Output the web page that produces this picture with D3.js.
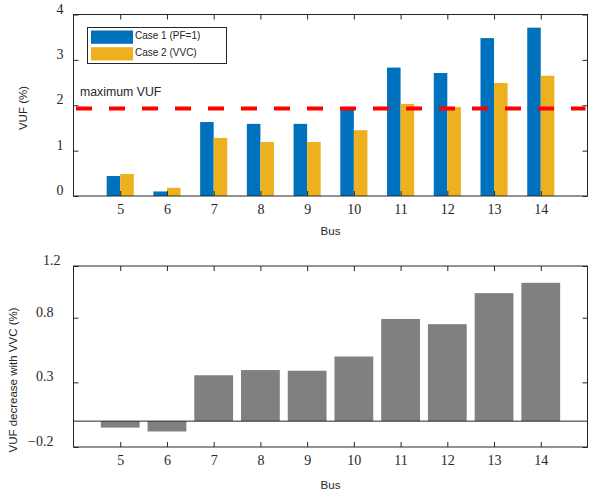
<!DOCTYPE html>
<html lang="en">
<head>
<meta charset="UTF-8">
<title>VUF per bus</title>
<script src="https://d3js.org/d3.v7.min.js"></script>
<style>
  body { margin: 0; background: #fff; }
  .tick line { stroke: #262626; }
  .lab { font-family: "Liberation Sans", Arial, sans-serif; fill: #262626; }
</style>
</head>
<body>
<script>
    // data
    var buses = [5, 6, 7, 8, 9, 10, 11, 12, 13, 14];
    var case1 = [0.44, 0.10, 1.63, 1.59, 1.59, 1.94, 2.83, 2.71, 3.48, 3.71];
    var case2 = [0.485, 0.18, 1.28, 1.19, 1.19, 1.45, 2.03, 1.96, 2.49, 2.65];
    var decrease = [-0.05, -0.08, 0.355, 0.395, 0.39, 0.50, 0.79, 0.75, 0.99, 1.07];
    var maxVUF = 1.93;
    var topTicks = [0, 1, 2, 3, 4];
    var botTicks = [-0.2, 0.3, 0.8, 1.2];

    var w = 590, h = 491;
    var svg = d3.select("body").append("svg")
        .attr("width", w)
        .attr("height", h);

    var left = 73.5, right = 587.5;

    // x scale shared by both panels
    var x = d3.scaleLinear().domain([4, 15]).range([left, right]);
    var step = x(1) - x(0);

    // ---------- top panel ----------
    var y1 = d3.scaleLinear().domain([0, 4]).range([196, 14.5]);
    var g1 = svg.append("g");

    var bw = 0.29 * step;
    g1.selectAll(".b1").data(buses).enter().append("rect")
        .attr("x", function (d) { return x(d) - bw; })
        .attr("width", bw)
        .attr("y", function (d, i) { return y1(case1[i]); })
        .attr("height", function (d, i) { return y1(0) - y1(case1[i]); })
        .attr("fill", "#0072BD");
    g1.selectAll(".b2").data(buses).enter().append("rect")
        .attr("x", function (d) { return x(d); })
        .attr("width", bw)
        .attr("y", function (d, i) { return y1(case2[i]); })
        .attr("height", function (d, i) { return y1(0) - y1(case2[i]); })
        .attr("fill", "#EDB120");

    // max VUF dashed line
    g1.append("line")
        .attr("x1", left + 2.5).attr("x2", right - 2)
        .attr("y1", y1(maxVUF)).attr("y2", y1(maxVUF))
        .attr("stroke", "#ff0000")
        .attr("stroke-width", 4)
        .attr("stroke-dasharray", "16,17");
    g1.append("text").attr("class", "lab")
        .attr("x", 80).attr("y", 96)
        .attr("font-size", "12.3px")
        .text("maximum VUF");

    drawAxes(g1, y1, topTicks, 196, 14.5, 10, d3.format("d"));

    g1.append("text").attr("class", "lab")
        .attr("x", (left + right) / 2).attr("y", 235)
        .attr("text-anchor", "middle").attr("font-size", "11.5px")
        .text("Bus");
    g1.append("text").attr("class", "lab")
        .attr("transform", "translate(27,108) rotate(-90)")
        .attr("text-anchor", "middle").attr("font-size", "11.5px")
        .text("VUF (%)");

    // legend
    var lg = g1.append("g");
    lg.append("rect").attr("x", 87.5).attr("y", 27.5).attr("width", 139).attr("height", 36)
        .attr("fill", "#fff").attr("stroke", "#262626").attr("stroke-width", 1);
    var legItems = ["Case 1 (PF=1)", "Case 2 (VVC)"];
    var legColors = ["#0072BD", "#EDB120"];
    legItems.forEach(function (t, i) {
        lg.append("rect").attr("x", 91).attr("y", 30.5 + i * 16.7)
            .attr("width", 42).attr("height", 13.3).attr("fill", legColors[i]);
        lg.append("text").attr("class", "lab")
            .attr("x", 135).attr("y", 39 + i * 16.5)
            .attr("font-size", "10px")
            .text(t);
    });

    // ---------- bottom panel ----------
    var y2 = d3.scaleLinear().domain([-0.2, 1.2]).range([447, 266]);
    var g2 = svg.append("g");

    var bw2 = 0.83 * step;
    g2.selectAll(".b3").data(buses).enter().append("rect")
        .attr("x", function (d) { return x(d) - bw2 / 2; })
        .attr("width", bw2)
        .attr("y", function (d, i) { return y2(Math.max(0, decrease[i])); })
        .attr("height", function (d, i) { return Math.abs(y2(decrease[i]) - y2(0)); })
        .attr("fill", "#808080");

    g2.append("line")
        .attr("x1", left).attr("x2", right)
        .attr("y1", y2(0)).attr("y2", y2(0))
        .attr("stroke", "#262626").attr("stroke-width", 1);

    drawAxes(g2, y2, botTicks, 447, 266, 20, function (d) { return d3.format(".1f")(d); });
    // top label of the lower panel sits a bit further right in the original
    g2.selectAll(".tick text").filter(function (d) { return d === 1.2; }).attr("dx", 7);

    g2.append("text").attr("class", "lab")
        .attr("x", (left + right) / 2).attr("y", 489)
        .attr("text-anchor", "middle").attr("font-size", "11.5px")
        .text("Bus");
    g2.append("text").attr("class", "lab")
        .attr("transform", "translate(17,380) rotate(-90)")
        .attr("text-anchor", "middle").attr("font-size", "11.5px")
        .text("VUF decrease with VVC (%)");

    // box + inward ticks on all four sides, like matlab
    function drawAxes(g, y, ticks, bottom, top, ypad, fmt) {
        g.append("g")
            .attr("transform", "translate(0," + bottom + ")")
            .call(d3.axisBottom(x).tickValues(buses).tickSize(-5).tickPadding(8))
            .call(function (s) { s.select(".domain").remove(); });
        g.append("g")
            .attr("transform", "translate(0," + top + ")")
            .call(d3.axisTop(x).tickValues(buses).tickSize(-5).tickFormat(""))
            .call(function (s) { s.select(".domain").remove(); });
        g.append("g")
            .attr("transform", "translate(" + left + ",0)")
            .call(d3.axisLeft(y).tickValues(ticks).tickSize(-5).tickPadding(ypad).tickFormat(fmt))
            .call(function (s) {
                s.select(".domain").remove();
                s.selectAll(".tick text").attr("dy", "-0.1em");
            });
        g.append("g")
            .attr("transform", "translate(" + right + ",0)")
            .call(d3.axisRight(y).tickValues(ticks).tickSize(-5).tickFormat(""))
            .call(function (s) { s.select(".domain").remove(); });
        g.selectAll(".tick text")
            .attr("font-family", "'Liberation Serif', 'Times New Roman', serif")
            .attr("font-size", "14px")
            .attr("fill", "#262626");
        g.append("rect")
            .attr("x", left).attr("y", top)
            .attr("width", right - left).attr("height", bottom - top)
            .attr("fill", "none").attr("stroke", "#262626").attr("stroke-width", 1);
    }
</script>
</body>
</html>
